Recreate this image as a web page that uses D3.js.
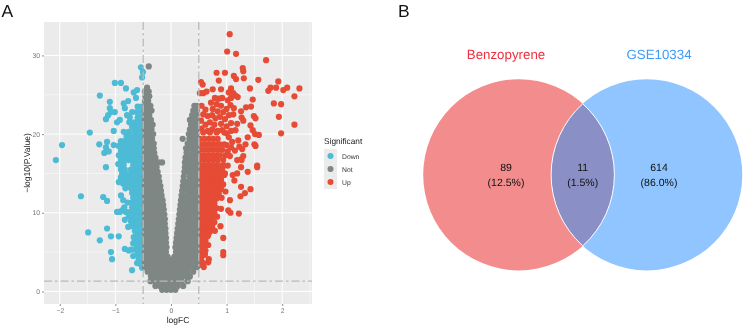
<!DOCTYPE html>
<html><head><meta charset="utf-8">
<script src="https://cdn.jsdelivr.net/npm/d3@7"></script>
<style>html,body{margin:0;padding:0;background:#fff}svg{display:block;filter:blur(.35px)}text{font-family:"Liberation Sans",Arial,sans-serif;text-rendering:geometricPrecision}</style>
</head><body><svg id="c" width="744" height="326"></svg>
<script>
// ---------- Panel A: values ----------
const xTicks = [-2,-1,0,1,2];
const yTicks = [0,10,20,30];
const xMinor = [-1.5,-0.5,0.5,1.5,2.5];
const yMinor = [5,15,25];
const xDomain = [-2.284,2.536];
const yDomain = [-1.6,34.25];
const fcCut = [-0.5,0.5];
const pCut = 1.3;
const groups = ["Down","Not","Up"];
const groupColors = ["#4DBBD5","#7F8785","#E64B35"];

// scattered points [logFC, -log10 p]
const downPoints = [[-2.07,16.7],[-1.96,18.6],[-1.62,12.1],[-1.49,7.5],[-1.28,6.5],[-1.22,12],[-1.15,11.5],[-1.17,15.8],[-1.15,8],[-1.08,7],[-0.94,7],[-1.08,5],[-1.06,4.1],[-0.7,2.7],[-0.83,5.4],[-0.76,5.2],[-0.68,4.5],[-0.61,3.6],[-0.67,6.9],[-0.68,6.1],[-0.77,8.2],[-0.83,9.1],[-0.97,10.1],[-0.88,10.3],[-0.81,10.1],[-0.9,12.2],[-0.86,11.6],[-0.94,13.9],[-0.9,14.5],[-0.95,16.2],[-0.54,28.5],[-0.505,27.9],[-0.52,27.2],[-1.01,26.5],[-0.9,26.5],[-0.81,25.8],[-0.67,25.3],[-0.61,25.6],[-1.28,24.9],[-1.1,24.1],[-0.63,24.6],[-0.77,24.2],[-0.85,23.9],[-1.1,23.3],[-1.01,22.8],[-1.08,22.8],[-1.13,22.4],[-1.17,21.9],[-0.83,23.3],[-0.79,22.4],[-0.92,21.8],[-0.97,21.5],[-1.46,20.2],[-1.03,20.4],[-1.29,18.7],[-1.15,19],[-1.17,18.3],[-1.2,17.6],[-1.12,17.8],[-1.03,18.6]];
const upPoints = [[1.056,32.7],[1.01,30.5],[1.17,30.2],[1.71,29.4],[1.29,28.4],[1.3,28],[0.82,27.8],[0.97,27.8],[1.13,27.4],[1.17,27],[1.31,27.1],[1.57,26.9],[1.93,26.7],[0.86,26.8],[0.54,26.6],[0.57,26.3],[1.42,25.8],[1.79,25.9],[1.89,25.9],[1.75,25.5],[2.09,25.9],[2.02,25.6],[2.31,25.8],[2.22,24.8],[1.85,23.9],[1.98,23.8],[1.94,22.2],[2.22,21.2],[1.98,20.1],[1.47,24.4],[1.35,23.4],[1.44,23.5],[1.26,22.9],[1.49,22.3],[1.52,22],[1.27,22.1],[1.3,21.7],[1.12,22.5],[1.19,21.3],[1.43,21.1],[1.47,20.5],[1.51,20],[1.58,19.9],[1.38,19.6],[1.34,18.7],[1.5,18.7],[1.52,18.5],[1.21,19.2],[1.23,18.4],[1.15,17.9],[1.28,18.1],[1.3,17.2],[1.26,16.8],[1.55,16],[1.55,15.8],[1.38,15.2],[1.19,16.7],[1.27,16.7],[1.26,15.8],[1.19,15],[1.11,14.8],[1.14,14.1],[0.97,15],[1.26,13.3],[1.43,13],[1.33,12.5],[1.25,12.1],[0.98,12.7],[0.91,11.9],[1.06,11.6],[0.9,10.5],[1.03,10.3],[1.07,10],[1.22,9.9],[0.83,9.5],[0.89,8.3],[0.79,7.7],[0.67,7.2],[0.94,6.8],[0.67,5.9],[0.58,5.7],[0.94,5],[0.94,4.6],[0.61,4.7],[0.68,4.1],[0.67,3.7],[0.58,3.6],[0.5,3.8],[0.59,3.1],
[0.58,25.2],[0.52,25.2],[0.64,25.4],[0.75,25.7],[0.9,25.7],[1.08,25.8],[0.79,24.6],[0.86,24.5],[0.92,24.6],[1.02,24.3],[1.08,24.6],[1.16,24.9],[1.2,24.7],[1.12,25.2],[1.04,25.3],[0.72,24],[0.82,23.8],[0.9,23.6],[1,23.2],[1.07,23.7],[1.13,23.3],[0.55,23.6],[0.62,23.1],[0.75,23.2],[0.84,22.9],[0.94,22.8],[1.04,22.4],[0.58,22.5],[0.66,22.3],[0.74,22.4],[0.8,22],[0.88,22.2],[0.97,21.9],[0.54,21.7],[0.62,21.2],[0.7,21.5],[0.78,21.2],[0.9,21.3],[1,21],[1.08,21.4],[0.55,20.7],[0.66,20.4],[0.74,20.6],[0.84,20.4],[0.92,20.5],[1,20.1],[1.08,20.4],[1.16,20.5],[1.04,19.6],[1.1,19],[1,18.6],[1.08,18.3],[1.02,17.8],[1.06,17.2],[1.02,16]];

// dense regions, row by row: [-log10 p, logFC, logFC, ...]
const downRows = [[23.5,-.6,-.53],[22.8,-.7,-.62,-.55],[22.1,-.74,-.6,-.53],[21.5,-.75,-.66,-.58,-.52],[20.9,-.7,-.62,-.54],[20.3,-.85,-.76,-.66,-.58,-.52],[19.7,-.8,-.72,-.65,-.58,-.52],[19.1,-.9,-.83,-.76,-.69,-.62,-.55],[18.5,-.94,-.86,-.78,-.72,-.65,-.58,-.52],[17.9,-.9,-.83,-.76,-.69,-.62,-.55],[17.3,-.94,-.86,-.79,-.72,-.65,-.58,-.52],[16.7,-.9,-.83,-.76,-.69,-.62,-.55],[16.1,-.92,-.85,-.68,-.62,-.55],[15.5,-.9,-.83,-.72,-.65,-.58,-.52],[14.9,-.88,-.8,-.72,-.65,-.58,-.52],[14.3,-.9,-.83,-.76,-.69,-.62,-.55],[13.7,-.86,-.79,-.72,-.65,-.58,-.52],[13.1,-.82,-.72,-.65,-.58,-.52],[12.5,-.7,-.63,-.56],[11.9,-.68,-.62,-.55],[11.3,-.78,-.7,-.63,-.56],[10.7,-.84,-.7,-.63,-.56],[10.1,-.92,-.8,-.72,-.65,-.58,-.52],[9.5,-.76,-.69,-.62,-.55],[8.9,-.72,-.65,-.58,-.52],[8.3,-.69,-.62,-.55],[7.7,-.65,-.58,-.52],[7.1,-.63,-.56],[6.5,-.65,-.58,-.52],[5.9,-.62,-.55],[5.3,-.72,-.65,-.58,-.52],[4.7,-.6,-.54],[4.1,-.58,-.52],[3.5,-.55],[3,-.52]];
const upRows = [[20.2,.58,.7,.82,.96],[19.4,.52,.6,.68,.76,.84],[18.7,.56,.64,.72,.8,.88,.96],[18,.52,.6,.68,.76,.84,.92],[17.3,.56,.64,.72,.8,.88,.98],[16.7,.52,.6,.68,.76,.84,.94],[16,.56,.64,.72,.8,.88,.96],[15.4,.52,.6,.68,.76,.84,.92],[14.8,.56,.64,.72,.8,.88,.96],[14.2,.52,.6,.68,.76,.84,.9],[13.6,.56,.64,.72,.8,.86,.94],[13,.52,.6,.68,.76,.84,.9],[12.4,.56,.64,.72,.8,.86],[11.8,.52,.6,.68,.76,.82],[11.2,.56,.64,.72,.78],[10.6,.52,.6,.68,.75,.82],[10,.56,.64,.72,.78],[9.4,.52,.6,.68,.74],[8.8,.56,.64,.7,.78],[8.2,.52,.6,.67,.74],[7.6,.56,.63,.7],[7,.52,.6,.66],[6.4,.56,.62],[5.8,.52,.6],[5.2,.56,.62],[4.6,.52,.58],[4,.54],[3.4,.52]];
const notRows = [[.2,-.16,-.08,0,.08],[.7,-.28,-.2,-.12,-.04,.04,.12,.22],[1.3,-.37,-.29,-.21,-.13,-.05,.03,.11,.19,.3],[1.9,-.36,-.28,-.2,-.12,-.04,.04,.12,.2,.28,.34],[2.5,-.42,-.34,-.26,-.18,-.1,-.02,.06,.14,.22,.3,.4],[3.1,-.47,-.39,-.31,-.23,-.15,-.07,.01,.09,.17,.25,.33,.41,.47],[3.7,-.47,-.42,-.34,-.26,-.18,-.1,-.02,.06,.14,.22,.3,.38,.47],[4.05,-.46,-.38,-.3,-.22,-.14,-.06,.02,.1,.18,.26,.34,.42],
[4.4,-.46,-.38,-.3,-.22,-.14,-.06,.06,.14,.22,.3,.38,.46],
[5,-.47,-.42,-.34,-.26,-.18,-.09,.09,.18,.26,.34,.42,.47],[5.6,-.46,-.38,-.3,-.22,-.14,-.08,.08,.14,.22,.3,.38,.46],[6.2,-.47,-.42,-.34,-.26,-.18,-.09,.09,.18,.26,.34,.42,.47],[6.8,-.46,-.38,-.3,-.22,-.14,-.09,.1,.14,.22,.3,.38,.46],[7.4,-.47,-.42,-.34,-.26,-.18,-.1,.11,.18,.26,.34,.42,.47],[8,-.46,-.38,-.3,-.22,-.15,-.1,.12,.17,.22,.3,.38,.46],[8.6,-.47,-.42,-.34,-.26,-.18,-.11,.13,.18,.26,.34,.42,.47],[9.2,-.46,-.38,-.3,-.22,-.15,-.11,.14,.22,.3,.38,.46],[9.8,-.47,-.42,-.34,-.26,-.18,-.12,.15,.18,.26,.34,.42,.47],[10.4,-.46,-.38,-.3,-.22,-.13,.16,.22,.3,.38,.46],[11,-.47,-.42,-.34,-.26,-.18,-.14,.17,.26,.34,.42,.47],[11.6,-.46,-.38,-.3,-.22,-.15,.18,.22,.3,.38,.46],[12.2,-.47,-.42,-.34,-.26,-.17,.19,.26,.34,.42,.47],[12.8,-.46,-.38,-.3,-.22,-.18,.2,.3,.38,.46],[13.4,-.47,-.42,-.34,-.26,-.19,.21,.26,.34,.42,.47],[14,-.46,-.38,-.3,-.21,.22,.3,.38,.46],[14.6,-.47,-.42,-.34,-.26,-.22,.23,.34,.42,.47],[15.2,-.46,-.38,-.3,-.24,.24,.3,.38,.46],[15.8,-.47,-.42,-.34,-.26,.25,.34,.42,.47],[16.4,-.46,-.38,-.3,-.22,-.16,.25,.3,.38,.46],[17,-.47,-.42,-.34,-.28,.26,.34,.42,.47],[17.6,-.46,-.38,-.3,.28,.38,.46],[18.2,-.47,-.42,-.34,-.31,.27,.34,.42,.47],[18.8,-.46,-.38,-.31,.3,.38,.46],[19.4,-.47,-.42,-.34,.21,.33,.42,.47],[20,-.46,-.38,-.32,.32,.38,.46],[20.6,-.47,-.42,-.35,.34,.42,.47],[21.2,-.46,-.38,-.33,.4,.36,.46],[21.8,-.47,-.42,-.36,.34,.42,.47],[22.4,-.46,-.39,.38,.46],[23,-.47,-.41,-.35,.4,.47],[23.6,-.46,-.37,.42,.46],[24.2,-.47,-.41],[24.8,-.46,-.39],[25.4,-.47,-.4],[25.9,-.43],[28.6,-.4]];

// ---------- Panel B: values ----------
const vennNames = ["Benzopyrene","GSE10334"];
const vennNameColors = ["#EE3140","#3F9CFB"];
const vennCounts = ["89","11","614"];
const vennPercents = ["(12.5%)","(1.5%)","(86.0%)"];
const vennFills = ["#F38C8C","#90C5FF","#8A8FC6"];

const expand = rows => rows.flatMap(r => r.slice(1).map(x => [x, r[0]]));
const svg = d3.select("#c");

// ---------- Panel A drawing ----------
const P = {l:44,r:312,t:22,b:304};
const x = d3.scaleLinear().domain(xDomain).range([P.l,P.r]);
const y = d3.scaleLinear().domain(yDomain).range([P.b,P.t]);
svg.append("rect").attr("x",P.l).attr("y",P.t).attr("width",P.r-P.l).attr("height",P.b-P.t).attr("fill","#EBEBEB");
const grid = svg.append("g").attr("stroke","#fff").attr("fill","none");
grid.selectAll(".vm").data(xMinor).join("line").attr("x1",x).attr("x2",x).attr("y1",P.t).attr("y2",P.b).attr("stroke-width",.5);
grid.selectAll(".hm").data(yMinor).join("line").attr("y1",y).attr("y2",y).attr("x1",P.l).attr("x2",P.r).attr("stroke-width",.5);
grid.selectAll(".vM").data(xTicks).join("line").attr("x1",x).attr("x2",x).attr("y1",P.t).attr("y2",P.b).attr("stroke-width",1);
grid.selectAll(".hM").data(yTicks).join("line").attr("y1",y).attr("y2",y).attr("x1",P.l).attr("x2",P.r).attr("stroke-width",1);

const R = 3.1;
const dots = (data,c) => svg.append("g").attr("fill",c).selectAll("circle").data(data).join("circle")
  .attr("cx",d=>x(d[0])).attr("cy",d=>y(d[1])).attr("r",R);
dots(downPoints.concat(expand(downRows)),groupColors[0]);
dots(upPoints.concat(expand(upRows)),groupColors[2]);
dots(expand(notRows),groupColors[1]);

const cut = svg.append("g").attr("stroke","#B9B9B9").attr("stroke-width",1.3).attr("stroke-dasharray","8 3 2.5 3").attr("fill","none");
cut.selectAll(".v").data(fcCut).join("line").attr("x1",x).attr("x2",x).attr("y1",P.t).attr("y2",P.b);
cut.append("line").attr("x1",P.l).attr("x2",P.r).attr("y1",y(pCut)).attr("y2",y(pCut));

const styleAxis = g => {
  g.select(".domain").remove();
  g.selectAll("line").attr("stroke","#444").attr("stroke-width",.6);
  g.selectAll("text").attr("fill","#777").attr("font-size",6.8);
};
svg.append("g").attr("transform",`translate(0,${P.b})`)
  .call(d3.axisBottom(x).tickValues(xTicks).tickSize(2).tickPadding(2).tickFormat(d=>d<0?"\u2212"+(-d):d)).call(styleAxis);
svg.append("g").attr("transform",`translate(${P.l},0)`)
  .call(d3.axisLeft(y).tickValues(yTicks).tickSize(2).tickPadding(2)).call(styleAxis);
svg.append("text").attr("x",178).attr("y",323).attr("text-anchor","middle").attr("font-size",8.5).attr("fill","#222").text("logFC");
svg.append("text").attr("transform","translate(30,163) rotate(-90)").attr("text-anchor","middle").attr("font-size",8.5).attr("fill","#222").text("\u2212log10(P.Value)");

// legend
svg.append("text").attr("x",324).attr("y",144).attr("font-size",8.3).attr("fill","#222").text("Significant");
const keyY = d3.scalePoint().domain(groups).range([156,182]);
svg.append("rect").attr("x",324).attr("y",149).attr("width",13).attr("height",40).attr("fill","#EBEBEB");
const key = svg.append("g").selectAll("g").data(groups).join("g");
key.append("circle").attr("cx",330.5).attr("cy",d=>keyY(d)).attr("r",3).attr("fill",(d,i)=>groupColors[i]);
key.append("text").attr("x",342).attr("y",d=>keyY(d)+2.5).attr("font-size",6.8).attr("fill","#333").text(d=>d);

// panel letters
svg.append("text").attr("x",1.5).attr("y",17).attr("font-size",17.5).attr("fill","#111").text("A");
svg.append("text").attr("x",398).attr("y",17).attr("font-size",17.5).attr("fill","#111").text("B");

// ---------- Panel B drawing ----------
const vR = 95.6, vY = 174.8, vX = [518.8,646.7];
vX.forEach((cx,i)=>svg.append("circle").attr("cx",cx).attr("cy",vY).attr("r",vR).attr("fill",vennFills[i]));
const half = (vX[1]-vX[0])/2, h = Math.sqrt(vR*vR-half*half), mid = (vX[0]+vX[1])/2;
svg.append("path").attr("d",`M${mid},${vY-h}A${vR},${vR} 0 0 1 ${mid},${vY+h}A${vR},${vR} 0 0 1 ${mid},${vY-h}Z`)
  .attr("fill",vennFills[2]).attr("stroke","#fff").attr("stroke-width",1);
const nameX = [506,659], countX = [506,582.7,659];
vennNames.forEach((n,i)=>svg.append("text").attr("x",nameX[i]).attr("y",59).attr("text-anchor","middle").attr("font-size",13.3).attr("fill",vennNameColors[i]).text(n));
vennCounts.forEach((n,i)=>{
  svg.append("text").attr("x",countX[i]).attr("y",171).attr("text-anchor","middle").attr("font-size",10.5).attr("fill","#111").text(n);
  svg.append("text").attr("x",countX[i]).attr("y",186).attr("text-anchor","middle").attr("font-size",10.5).attr("fill","#111").text(vennPercents[i]);
});
</script></body></html>
